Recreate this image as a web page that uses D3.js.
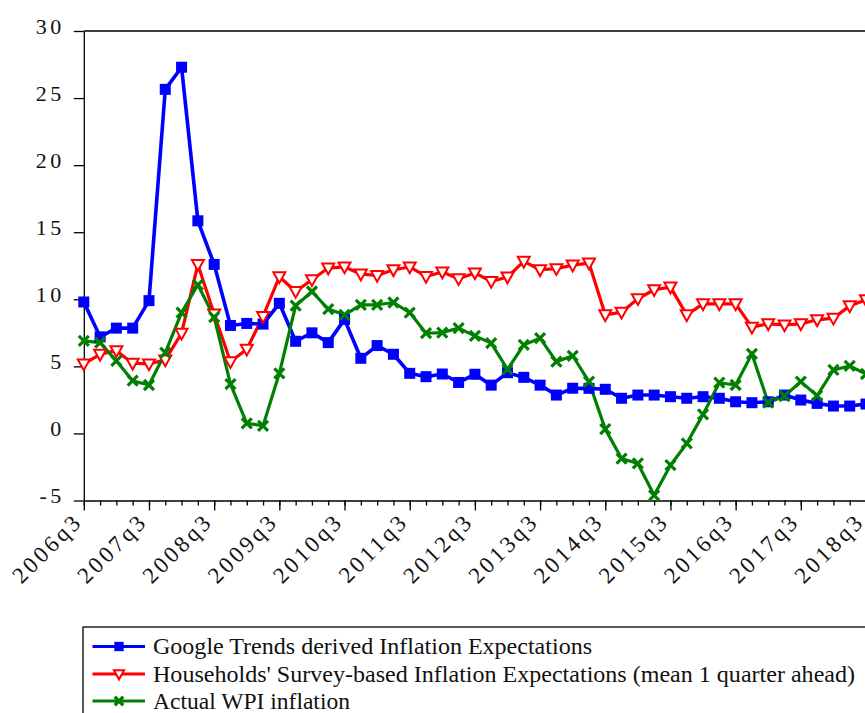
<!DOCTYPE html>
<html>
<head>
<meta charset="utf-8">
<script src="https://cdn.jsdelivr.net/npm/d3@7"></script>
<style>
  body { margin: 0; background: #fff; }
  svg { display: block; font-family: "Liberation Serif", "Times New Roman", serif; }
  .axis path, .axis line { stroke: #000; stroke-width: 1.3; }
  .axis text { fill: #111; font-family: "Liberation Serif", serif; }
</style>
</head>
<body>
<svg width="865" height="713"></svg>
<script>
// quarters 2006q3 .. 2018q3
var quarters = [];
for (var yr = 2006; yr <= 2018; yr++) {
    for (var q = 1; q <= 4; q++) {
        if ((yr === 2006 && q < 3) || (yr === 2018 && q > 3)) continue;
        quarters.push(yr + "q" + q);
    }
}
var xLabels = ["2006q3","2007q3","2008q3","2009q3","2010q3","2011q3","2012q3","2013q3","2014q3","2015q3","2016q3","2017q3","2018q3"];
var yTicks = [-5, 0, 5, 10, 15, 20, 25, 30];

// series
var googleTrends = [9.8, 7.2, 7.85, 7.85, 9.9, 25.65, 27.3, 15.85, 12.6, 8.05, 8.2, 8.15, 9.7,
    6.87, 7.5, 6.77, 8.5, 5.6, 6.55, 5.9, 4.48, 4.23, 4.43, 3.8, 4.41, 3.6, 4.53, 4.18, 3.6,
    2.86, 3.37, 3.36, 3.29, 2.62, 2.86, 2.86, 2.74, 2.62, 2.74, 2.62, 2.36, 2.29, 2.36, 2.86,
    2.49, 2.24, 2.04, 2.04, 2.19];
var households = [5.18, 5.9, 6.17, 5.23, 5.18, 5.48, 7.47, 12.6, 8.9, 5.35, 6.28, 8.72, 11.68,
    10.58, 11.46, 12.33, 12.41, 11.88, 11.78, 12.2, 12.41, 11.7, 12.03, 11.53, 11.96, 11.33, 11.66,
    12.83, 12.2, 12.28, 12.55, 12.7, 8.84, 9.04, 10.04, 10.71, 10.91, 8.84, 9.66, 9.66, 9.66,
    7.92, 8.17, 8.09, 8.17, 8.47, 8.59, 9.51, 9.96];
var wpi = [6.9, 6.77, 5.4, 3.93, 3.61, 6.02, 9.01, 11.08, 8.67, 3.68, 0.75, 0.57, 4.48,
    9.52, 10.58, 9.27, 8.84, 9.59, 9.59, 9.76, 9.01, 7.47, 7.52, 7.85, 7.27, 6.73, 4.78,
    6.6, 7.1, 5.35, 5.79, 3.86, 0.32, -1.87, -2.24, -4.61, -2.37, -0.75, 1.42, 3.78, 3.61,
    5.93, 2.29, 2.79, 3.86, 2.81, 4.73, 5.03, 4.43];

var seriesNames = ["Google Trends derived Inflation Expectations",
    "Households' Survey-based Inflation Expectations (mean 1 quarter ahead)",
    "Actual WPI inflation"];
var seriesColors = ["#0000ff", "#ff0000", "#008000"];

var svg = d3.select("svg");

var x = d3.scaleLinear().domain([0, quarters.length - 1]).range([83.8, 866]);
var y = d3.scaleLinear().domain([-5, 30]).range([500.5, 31]);

// axes
var gy = svg.append("g").attr("class", "axis")
    .attr("transform", "translate(83.8,0)")
    .call(d3.axisLeft(y).tickValues(yTicks).tickSize(10).tickPadding(12).tickSizeOuter(0)
        .tickFormat(function(d) { return String(d); }));
gy.attr("font-family", null).attr("font-size", null);
gy.selectAll("text")
    .attr("dy", "0.1em")
    .attr("dx", "3px")
    .style("font-size", "22px")
    .style("letter-spacing", "3.5px");

// top border
svg.append("line")
    .attr("x1", 83.8).attr("x2", 866).attr("y1", y(30)).attr("y2", y(30))
    .attr("stroke", "#000").attr("stroke-width", 1.3);

// minor ticks on x (each quarter)
svg.append("g").attr("class", "axis")
    .attr("transform", "translate(0," + y(-5) + ")")
    .call(d3.axisBottom(x).tickValues(d3.range(quarters.length)).tickSize(5).tickSizeOuter(0).tickFormat(""));

// major ticks + labels
var gx = svg.append("g").attr("class", "axis")
    .attr("transform", "translate(0," + y(-5) + ")")
    .call(d3.axisBottom(x)
        .tickValues(xLabels.map(function(l) { return quarters.indexOf(l); }))
        .tickSize(10).tickSizeOuter(0)
        .tickFormat(function(i) { return quarters[i]; }));
gx.attr("font-family", null).attr("font-size", null);
gx.select(".domain").remove();
gx.selectAll("text")
    .attr("text-anchor", "end")
    .attr("y", 0).attr("dy", 0)
    .attr("transform", "translate(-0.5,22) rotate(-45)")
    .style("font-size", "23px")
    .style("letter-spacing", "3.2px");

// lines
var allSeries = [googleTrends, households, wpi];
var line = d3.line()
    .x(function(d, i) { return x(i); })
    .y(function(d) { return y(d); });

allSeries.forEach(function(s, k) {
    svg.append("path")
        .datum(s)
        .attr("fill", "none")
        .attr("stroke", seriesColors[k])
        .attr("stroke-width", k === 0 ? 3.6 : 3.2)
        .attr("stroke-linejoin", "round")
        .attr("d", line);
});

// markers
function drawMarker(g, k, cx, cy, sc) {
    sc = sc || 1;
    if (k === 0) {
        var s = 11 * sc;
        g.append("rect").attr("x", cx - s / 2).attr("y", cy - s / 2)
            .attr("width", s).attr("height", s).attr("fill", seriesColors[0]);
    } else if (k === 1) {
        var w = 6 * sc;
        g.append("path")
            .attr("d", "M" + (cx - w) + "," + (cy - w * 0.75) + "L" + (cx + w) + "," + (cy - w * 0.75) + "L" + cx + "," + (cy + w * 1.05) + "Z")
            .attr("fill", "#fff").attr("stroke", seriesColors[1]).attr("stroke-width", 2);
    } else {
        var a = 5 * sc;
        g.append("path")
            .attr("d", "M" + (cx - a) + "," + (cy - a) + "L" + (cx + a) + "," + (cy + a) + "M" + (cx - a) + "," + (cy + a) + "L" + (cx + a) + "," + (cy - a))
            .attr("stroke", seriesColors[2]).attr("stroke-width", 3.2).attr("fill", "none");
    }
}

allSeries.forEach(function(s, k) {
    var g = svg.append("g");
    s.forEach(function(v, i) { drawMarker(g, k, x(i), y(v)); });
});

// legend
var legend = svg.append("g");
legend.append("rect")
    .attr("x", 83).attr("y", 627).attr("width", 800).attr("height", 120)
    .attr("fill", "none").attr("stroke", "#000").attr("stroke-width", 1.3);
var rowY = [646.5, 674, 701];
var textLen = [439, 702, 197];
seriesNames.forEach(function(n, k) {
    legend.append("line")
        .attr("x1", 92.5).attr("x2", 145).attr("y1", rowY[k]).attr("y2", rowY[k])
        .attr("stroke", seriesColors[k]).attr("stroke-width", 3.2);
    drawMarker(legend, k, 119, rowY[k], 0.85);
    legend.append("text")
        .attr("x", 153).attr("y", rowY[k] + 7.5)
        .attr("textLength", textLen[k])
        .attr("lengthAdjust", "spacingAndGlyphs")
        .style("font-size", "23px")
        .attr("fill", "#111")
        .text(n);
});
</script>
</body>
</html>
